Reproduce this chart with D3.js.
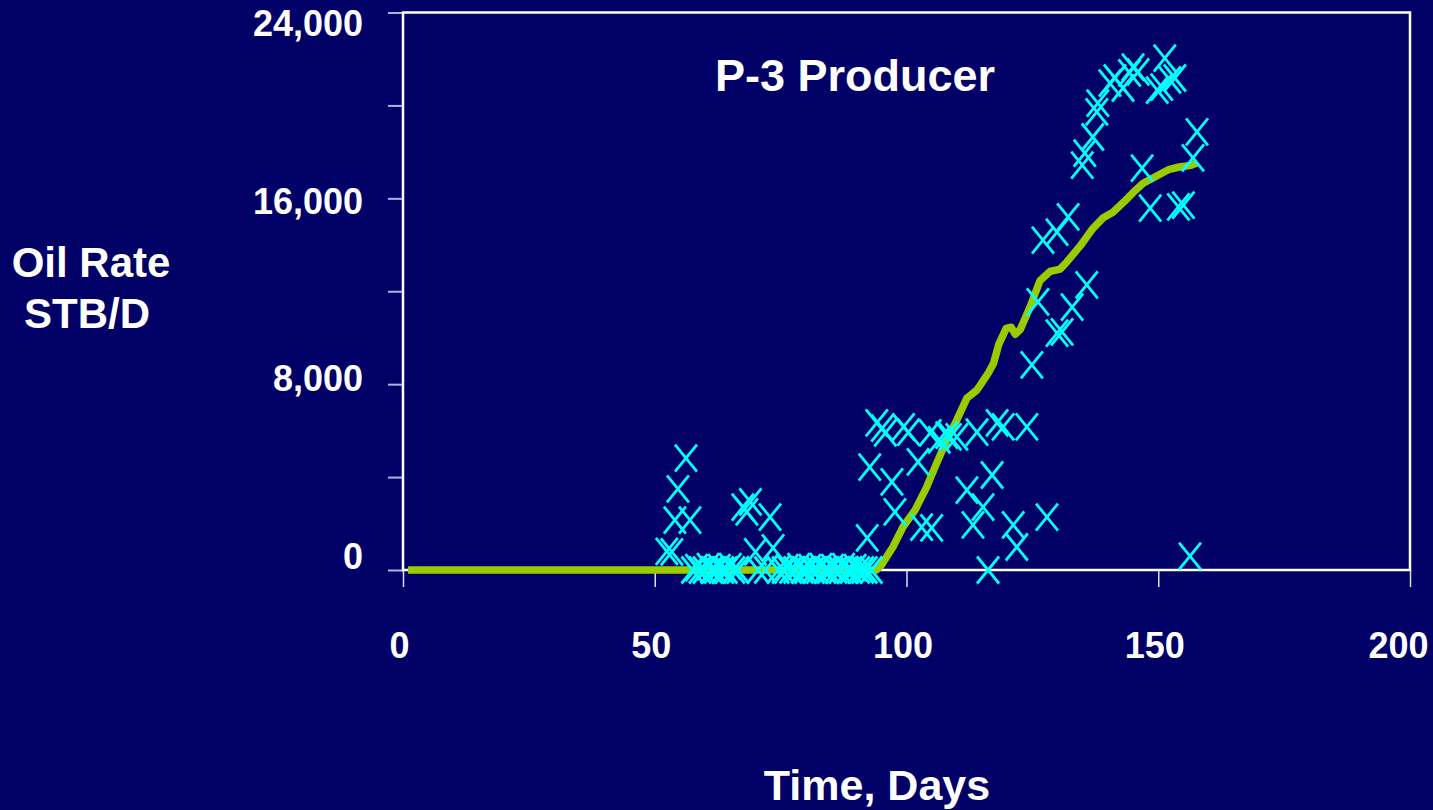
<!DOCTYPE html>
<html>
<head>
<meta charset="utf-8">
<script src="https://cdn.jsdelivr.net/npm/d3@7"></script>
<style>
  html, body { margin: 0; padding: 0; background: #000066; }
  svg { display: block; }
  text { font-family: "Liberation Sans", Arial, sans-serif; font-weight: bold; fill: #ffffff; }
</style>
</head>
<body>
<script>
// ---------- DATA ----------
const title = "P-3 Producer";
const xTitle = "Time, Days";
const yTitleLines = ["Oil Rate", "STB/D"];
const xTickValues = [0, 50, 100, 150, 200];
const yTickValues = [0, 4000, 8000, 12000, 16000, 20000, 24000];
const yLabelValues = [0, 8000, 16000, 24000];

// Measured oil rate (X markers): [day, STB/D]
const measured = [
  [52.4, 800], [53.4, 780], [54.0, 2150], [57.0, 2150], [54.6, 3490], [56.2, 4820],
  [57.5, 0], [58.3, 100], [59.0, 0], [59.8, 0], [60.6, 150], [61.3, 0], [62.0, 0],
  [62.8, 100], [63.5, 0], [64.2, 0], [65.0, 150], [65.7, 0], [66.5, 0],
  [67.5, 2710], [68.3, 2500], [69.0, 2930], [72.9, 2280], [70.0, 780], [73.5, 950],
  [70.5, 0], [72.0, 0], [74.5, 0], [75.5, 0], [76.3, 100], [77.0, 0], [77.8, 0],
  [78.6, 150], [79.3, 0], [80.0, 0], [80.8, 100], [81.5, 0], [82.3, 0], [83.0, 150],
  [83.8, 0], [84.5, 0], [85.3, 100], [86.0, 0], [86.8, 0], [87.5, 150], [88.3, 0],
  [89.0, 0], [89.8, 100], [90.5, 0], [91.3, 0], [92.0, 0], [93.0, 0],
  [92.2, 1380], [92.7, 4430], [94.1, 6330], [95.2, 6110], [95.8, 5900], [97.1, 3790],
  [97.7, 2500], [99.4, 6160], [100.4, 5940], [102.3, 4650], [103.0, 1850], [105.0, 1810],
  [104.7, 5900], [106.5, 5600], [108.0, 5810], [108.7, 5730], [110.0, 5730], [112.0, 3440],
  [113.2, 1940], [114.0, 5940], [115.2, 2710], [116.2, 0], [117.0, 4090], [118.0, 6330],
  [119.2, 6160], [121.2, 1940], [121.9, 990], [123.9, 6160], [124.9, 8830], [126.1, 11540],
  [127.1, 14200], [127.9, 2280], [129.9, 14550], [129.9, 10200], [130.9, 10250],
  [132.1, 15200], [132.9, 11320], [134.9, 17430], [135.4, 17950], [135.8, 12270],
  [137.0, 18640], [137.8, 19720], [138.0, 20100], [140.4, 20960], [141.4, 21180],
  [143.0, 20750], [144.3, 21400], [145.0, 21650], [146.0, 21440], [146.8, 17300],
  [148.4, 15580], [149.8, 20660], [150.7, 20790], [151.3, 22040], [152.3, 21100],
  [153.3, 21180], [154.0, 15630], [155.0, 15710], [156.9, 17740], [157.7, 18860],
  [156.3, 600]
];

// Simulated oil rate (green line): [day, STB/D]
const simulated = [
  [1, 0], [94, 0], [95, 200], [97.3, 990], [99.3, 1850], [101.7, 2580], [104, 3570],
  [106, 4600], [108, 5600], [110, 6460], [112, 7400], [114, 7750], [116.3, 8500],
  [117.3, 8900], [118.3, 9700], [119.8, 10400], [120.8, 10450], [121.6, 10150],
  [122.6, 10350], [124.5, 11300], [126.5, 12450], [128.5, 12850], [130.5, 12950],
  [131.8, 13250], [134.5, 13950], [137, 14700], [139, 15150], [141, 15400],
  [143.2, 15850], [145, 16250], [147, 16650], [149.6, 16950], [152.2, 17250],
  [154.2, 17350], [156.5, 17420], [157.7, 17520]
];

// ---------- CHART ----------
const W = 1433, H = 810;
const svg = d3.select("body").append("svg").attr("width", W).attr("height", H);
svg.append("rect").attr("width", W).attr("height", H).attr("fill", "#000066");

const x = d3.scaleLinear().domain([0, 200]).range([403, 1410]);
const y = d3.scaleLinear().domain([0, 24000]).range([570, 12.5]);
const yLab = d3.scaleLinear().domain([0, 24000]).range([557, 24]);

// Y tick marks
const gy = svg.append("g").attr("transform", `translate(${x(0)},0)`)
  .call(d3.axisLeft(y).tickValues(yTickValues).tickSize(15).tickFormat(""));
gy.select(".domain").remove();
gy.selectAll(".tick line").attr("stroke", "#b0b0e0").attr("stroke-width", 2);

// X tick marks
const gx = svg.append("g").attr("transform", `translate(0,${y(0)})`)
  .call(d3.axisBottom(x).tickValues(xTickValues).tickSize(17).tickFormat(""));
gx.select(".domain").remove();
gx.selectAll(".tick line").attr("stroke", "#e0e0f0").attr("stroke-width", 1.5);

// Plot frame
svg.append("rect")
  .attr("x", x(0)).attr("y", y(24000))
  .attr("width", x(200) - x(0)).attr("height", y(0) - y(24000))
  .attr("fill", "none").attr("stroke", "#ffffff").attr("stroke-width", 2.5);

// Y tick labels
const gyl = svg.append("g").attr("transform", "translate(363,0)")
  .call(d3.axisLeft(yLab).tickValues(yLabelValues).tickSize(0).tickPadding(0).tickFormat(d3.format(",")));
gyl.select(".domain").remove();
gyl.selectAll("text").attr("fill", "#fff").style("font-size", "36px")
  .style("font-family", '"Liberation Sans", Arial, sans-serif').style("font-weight", "bold");

// X tick labels
const gxl = svg.append("g").attr("transform", "translate(-4,632)")
  .call(d3.axisBottom(x).tickValues(xTickValues).tickSize(0).tickPadding(0).tickFormat(d3.format("d")));
gxl.select(".domain").remove();
gxl.selectAll("text").attr("fill", "#fff").style("font-size", "36px")
  .style("font-family", '"Liberation Sans", Arial, sans-serif').style("font-weight", "bold")
  .attr("dx", d => d === 200 ? -8 : 0);

// Simulated line
const line = d3.line().x(d => x(d[0])).y(d => y(d[1])).curve(d3.curveLinear);
svg.append("path").datum(simulated)
  .attr("d", line).attr("fill", "none")
  .attr("stroke", "#99cc00").attr("stroke-width", 7.5)
  .attr("stroke-linejoin", "round").attr("stroke-linecap", "butt");

// Measured X markers
const mw = 11, mh = 13.5;
svg.append("g").selectAll("path").data(measured).join("path")
  .attr("transform", d => `translate(${x(d[0])},${y(d[1])})`)
  .attr("d", `M${-mw},${-mh}L${mw},${mh}M${mw},${-mh}L${-mw},${mh}`)
  .attr("stroke", "#00ffff").attr("stroke-width", 2.8).attr("fill", "none");

// Titles
svg.append("text").attr("x", 855).attr("y", 91).attr("text-anchor", "middle")
  .style("font-size", "45px").text(title);
svg.append("text").attr("x", 877).attr("y", 800).attr("text-anchor", "middle")
  .style("font-size", "43px").text(xTitle);
svg.append("text").attr("x", 91).attr("y", 277).attr("text-anchor", "middle")
  .style("font-size", "42px").text(yTitleLines[0]);
svg.append("text").attr("x", 87).attr("y", 328).attr("text-anchor", "middle")
  .style("font-size", "42px").text(yTitleLines[1]);
</script>
</body>
</html>
